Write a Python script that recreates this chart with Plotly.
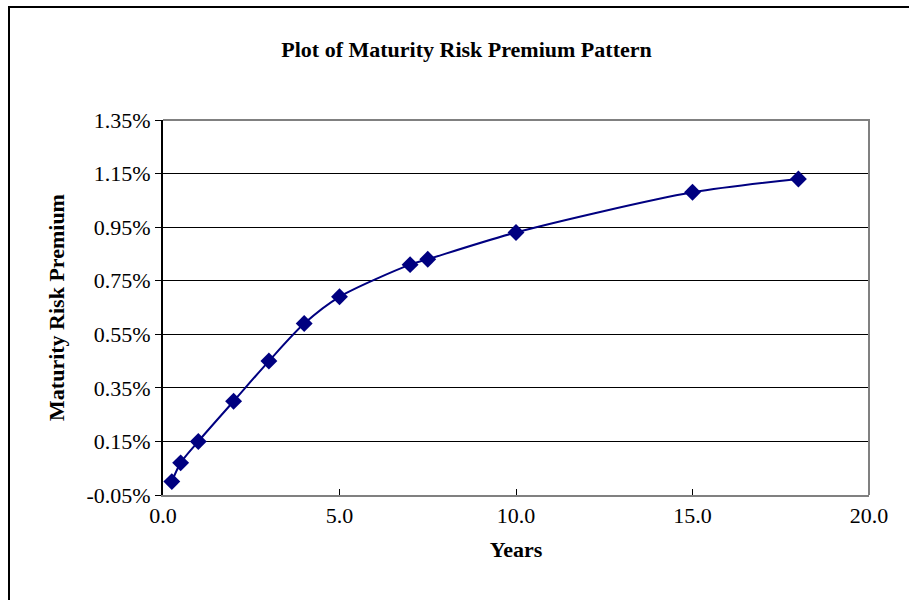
import plotly.graph_objects as go

# Maturity (years) and the estimated maturity risk premium (%) at each maturity
years = [0.25, 0.5, 1.0, 2.0, 3.0, 4.0, 5.0, 7.0, 7.5, 10.0, 15.0, 18.0]
premium_pct = [0.00, 0.07, 0.15, 0.30, 0.45, 0.59, 0.69, 0.81, 0.83, 0.93, 1.08, 1.13]

# Axis tick positions and labels
y_tick_vals = [-0.05, 0.15, 0.35, 0.55, 0.75, 0.95, 1.15, 1.35]
y_tick_text = ["-0.05%", "0.15%", "0.35%", "0.55%", "0.75%", "0.95%", "1.15%", "1.35%"]
x_tick_vals = [0, 5, 10, 15, 20]
x_tick_text = ["0.0", "5.0", "10.0", "15.0", "20.0"]

title_text = "Plot of Maturity Risk Premium Pattern"
x_title = "Years"
y_title = "Maturity Risk Premium"

W, H = 909, 600
L, R, T, B = 163, 40, 120, 105
plot_w = W - L - R
plot_h = H - T - B

serif = "Liberation Serif, Times New Roman, serif"
navy = "#000080"

fig = go.Figure()
fig.add_trace(go.Scatter(
    x=years, y=premium_pct,
    mode="lines+markers",
    line=dict(color=navy, width=2, shape="spline", smoothing=0.8),
    marker=dict(symbol="diamond", size=13, color=navy),
    showlegend=False,
    hoverinfo="skip",
))

fig.update_layout(
    width=W, height=H,
    margin=dict(l=L, r=R, t=T, b=B),
    paper_bgcolor="white",
    plot_bgcolor="white",
    font=dict(family=serif, size=22, color="black"),
    title=dict(text="<b>" + title_text + "</b>", x=(W / 2 + 12) / W, xanchor="center",
               y=1 - 49 / H, yanchor="middle", font=dict(size=22)),
    xaxis=dict(
        range=[0, 20], tickvals=x_tick_vals, ticktext=x_tick_text,
        showgrid=False, zeroline=False,
        showline=True, linecolor="#808080", linewidth=2,
        ticks="inside", ticklen=6, tickcolor="black", tickwidth=1,
        title=dict(text="<b>" + x_title + "</b>", font=dict(size=22), standoff=14),
        tickfont=dict(size=22),
    ),
    yaxis=dict(
        range=[-0.05, 1.35], tickvals=y_tick_vals, ticktext=y_tick_text,
        showgrid=True, gridcolor="black", gridwidth=1, zeroline=False,
        showline=True, linecolor="black", linewidth=2,
        ticks="outside", ticklen=6, tickcolor="black", tickwidth=1,
        title=dict(text="<b>" + y_title + "</b>", font=dict(size=22), standoff=16),
        tickfont=dict(size=22),
    ),
)

# Gray frame on the top and right of the plotting area
fig.add_shape(type="path", xref="paper", yref="paper",
              path="M 0 1 L 1 1 L 1 0",
              line=dict(color="#808080", width=2), layer="above")

# Outer chart border (left and top edges fall inside the page)
fig.add_shape(type="rect", xref="paper", yref="paper",
              x0=(9 - L) / plot_w, x1=(W + 5 - L) / plot_w,
              y0=-(H + 5 - T - plot_h) / plot_h, y1=1 + (T - 7) / plot_h,
              line=dict(color="black", width=2), layer="below")

fig.write_html("out.html")
